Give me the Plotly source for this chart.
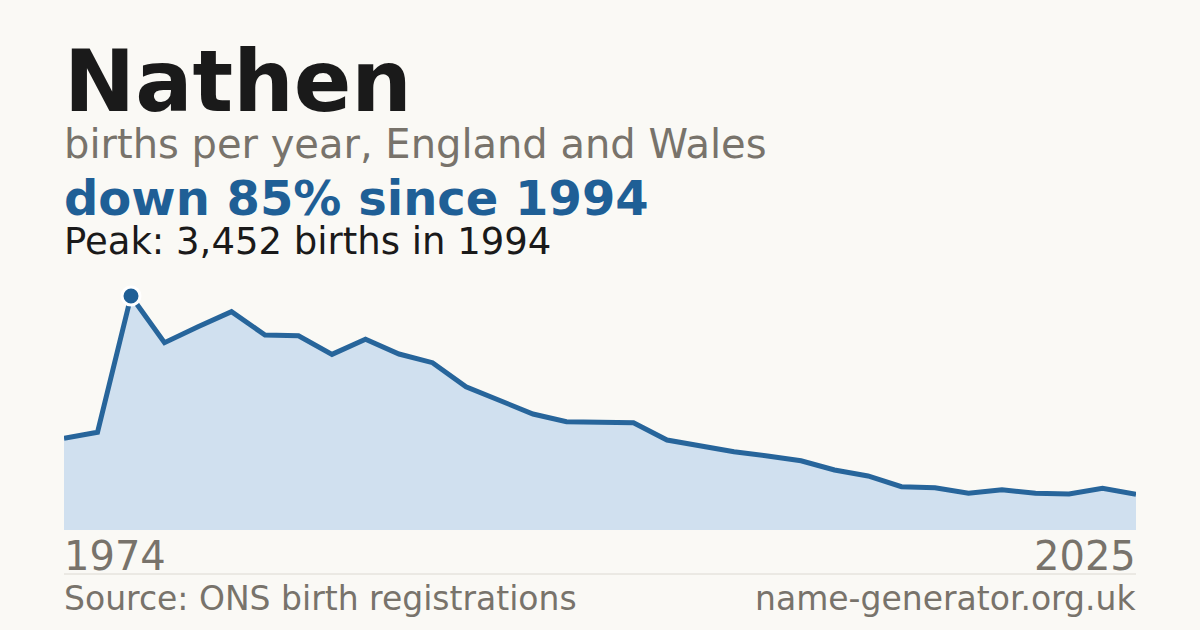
import plotly.graph_objects as go

# ---- data ----
years = ["1974", "1984"] + [str(y) for y in range(1994, 2020)] + ["2021", "2022", "2023", "2024", "2025"]
births = [1352, 1441, 3452, 2763, 2999, 3220, 2876, 2866, 2591, 2813, 2596, 2468,
          2114, 1918, 1711, 1598, 1583, 1583, 1328, 1239, 1155, 1092, 1022,
          885, 797, 639, 624, 541, 595, 541, 531, 615, 525]
tick_labels = [years[0], years[-1]]

title_text = "Nathen"
subtitle_text = "births per year, England and Wales"
source_text = "Source: ONS birth registrations"
site_text = "name-generator.org.uk"

peak_i = max(range(len(births)), key=lambda i: births[i])
peak_val = births[peak_i]
peak_year = years[peak_i]
change = round((1 - births[-1] / peak_val) * 100)

W, H = 1200, 630
BG = "#faf9f5"
FONT = "DejaVu Sans"
GREY = "#78736b"
BLUE = "#1f5f96"

def px(x):
    return x / W

def py(y):
    return 1 - y / H

fig = go.Figure()
fig.add_trace(go.Scatter(
    x=years, y=births, mode="lines",
    line=dict(color="#27659b", width=5),
    fill="tozeroy", fillcolor="#d0e0ef",
    hoverinfo="skip", showlegend=False,
))
fig.add_trace(go.Scatter(
    x=[peak_year], y=[peak_val], mode="markers",
    marker=dict(color=BLUE, size=18, line=dict(color="white", width=3)),
    hoverinfo="skip", showlegend=False, cliponaxis=False,
))

annos = [
    dict(text=f"<b>{title_text}</b>", x=px(63), y=py(82), size=85, color="#1a1a1a", xanchor="left"),
    dict(text=subtitle_text, x=px(63), y=py(144.5), size=40, color=GREY, xanchor="left"),
    dict(text=f"<b>down {change}% since {peak_year}</b>", x=px(63), y=py(198), size=48, color=BLUE, xanchor="left"),
    dict(text=f"Peak: {peak_val:,} births in {peak_year}", x=px(63), y=py(241.5), size=37, color="#1a1a1a", xanchor="left"),
    dict(text=tick_labels[0], x=px(63), y=py(556), size=40, color=GREY, xanchor="left"),
    dict(text=tick_labels[1], x=px(1137), y=py(556), size=40, color=GREY, xanchor="right"),
    dict(text=source_text, x=px(63), y=py(598), size=33, color=GREY, xanchor="left"),
    dict(text=site_text, x=px(1137), y=py(598), size=33, color=GREY, xanchor="right"),
]
for a in annos:
    fig.add_annotation(
        text=a["text"], x=a["x"], y=a["y"], xref="paper", yref="paper",
        xanchor=a["xanchor"], yanchor="middle", showarrow=False,
        font=dict(family=FONT, size=a["size"], color=a["color"]),
        borderpad=0,
    )

fig.add_shape(type="line", xref="paper", yref="paper",
              x0=px(64), x1=px(1136), y0=py(574), y1=py(574),
              line=dict(color="#dcd9d2", width=1))

fig.update_layout(
    width=W, height=H,
    margin=dict(l=0, r=0, t=0, b=0),
    paper_bgcolor=BG, plot_bgcolor=BG,
    xaxis=dict(domain=[px(64), px(1136)], type="category", range=[0, len(years) - 1],
               showgrid=False, zeroline=False, showticklabels=False, ticks="", showline=False,
               fixedrange=True),
    yaxis=dict(domain=[py(530), py(280)], range=[0, peak_val * 250 / 234],
               showgrid=False, zeroline=False, showticklabels=False, ticks="", showline=False,
               fixedrange=True),
    font=dict(family=FONT),
)

fig.write_html(
    "out.html",
    config={"displayModeBar": False},
    post_script="document.body.style.margin='0';document.body.style.background='#faf9f5';",
)
